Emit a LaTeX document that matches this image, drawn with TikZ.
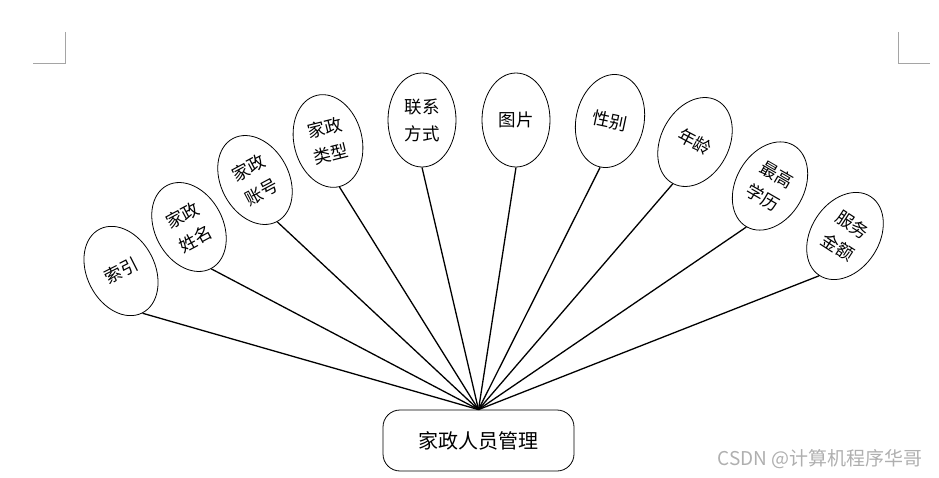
\documentclass[tikz,border=0pt]{standalone}
\usepackage{fontspec}
\newfontfamily\cjk{Noto Sans CJK SC}
\usetikzlibrary{shapes.geometric}
\definecolor{markgray}{RGB}{165,165,165}
\definecolor{wmgray}{RGB}{175,175,175}
\begin{document}
\begin{tikzpicture}[x=1pt,y=-1pt,
  attr/.style={ellipse,draw,line width=0.8pt,minimum width=68pt,minimum height=94pt,inner sep=0pt,align=center,font=\cjk\fontsize{17.5}{27}\selectfont},
  link/.style={line width=1.3pt},
  mainbox/.style={draw,line width=0.8pt,rounded corners=17pt,minimum width=191pt,minimum height=61pt,inner sep=0pt,font=\cjk\fontsize{20}{22}\selectfont},
  cornermark/.style={draw=markgray,line width=1pt},
  watermark/.style={text=wmgray,font=\cjk\fontsize{19}{20}\selectfont,inner sep=0pt}]
\useasboundingbox (0,0) rectangle (939,478);
% corner marks
\coordinate (tl1) at (65,32); \coordinate (tl2) at (65,64); \coordinate (tl3) at (33,64);
\coordinate (tr1) at (898,32); \coordinate (tr2) at (898,64); \coordinate (tr3) at (930,64);
\draw[cornermark] (tl1) -- (tl2) -- (tl3);
\draw[cornermark] (tr1) -- (tr2) -- (tr3);
% main box
\node[mainbox] (main) at (478.5,440.5) {家政人员管理};
% attributes
\node[attr,rotate=27] (e1) at (121,271) {索引};
\node[attr,rotate=28] (e2) at (189,227) {家政\\姓名};
\node[attr,rotate=28] (e3) at (255,180) {家政\\账号};
\node[attr,rotate=14] (e4) at (328,141) {家政\\类型};
\node[attr] (e5) at (422,120) {联系\\方式};
\node[attr] (e6) at (516,120) {图片};
\node[attr,rotate=-12] (e7) at (610,121) {性别};
\node[attr,rotate=-28] (e8) at (695,142) {年龄};
\node[attr,rotate=-30] (e9) at (770,186) {最高\\学历};
\node[attr,rotate=-33] (e10) at (845,236) {服务\\金额};
\foreach \i in {1,...,10} {\draw[link] (e\i.south) -- (main.north);}
% watermark
\node[watermark,anchor=east] (wm) at (923,459) {CSDN @计算机程序华哥};
\end{tikzpicture}
\end{document}
